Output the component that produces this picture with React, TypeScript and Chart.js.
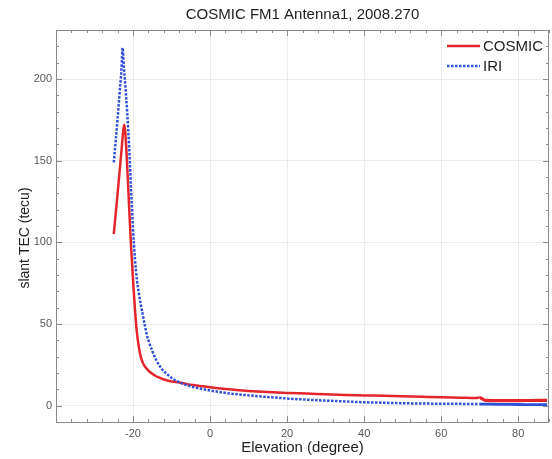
import { useEffect, useRef } from 'react';
import { Chart, registerables } from 'chart.js';

Chart.register(...registerables);

const chartTitle = 'COSMIC FM1 Antenna1, 2008.270';
const xAxisTitle = 'Elevation (degree)';
const yAxisTitle = 'slant TEC (tecu)';
const seriesNames = ['COSMIC', 'IRI'];

const xMajorTicks = [-20, 0, 20, 40, 60, 80];
const yMajorTicks = [0, 50, 100, 150, 200];
const xLimits = [-40, 88];
const yLimits = [-10, 230];

const cosmicElev = [-25, -24, -23, -22.6, -22.3, -22, -21.5, -21, -20.5, -20, -19.5, -19, -18.5, -18, -17.5, -17, -16, -15, -14, -13, -12, -10, -8, -6, -4, -2, 0, 5, 10, 15, 20, 25, 30, 35, 40, 45, 50, 55, 60, 65, 69, 70, 70.5, 71.5, 75, 80, 85, 87.5];
const cosmicTec = [105, 130, 156, 167, 172, 167, 146, 121, 97, 77, 59, 45, 36, 30, 26.5, 24.3, 21.5, 19.5, 18, 17, 16, 14.8, 14.2, 13.2, 12.5, 11.9, 11.3, 10.0, 9.0, 8.3, 7.8, 7.4, 7.0, 6.6, 6.3, 6.0, 5.7, 5.4, 5.1, 4.9, 4.7, 5.0, 4.4, 3.2, 3.1, 3.1, 3.2, 3.2];

const iriElev = [-25, -24.5, -24, -23.5, -23, -22.7, -22.4, -22, -21.5, -21, -20.5, -20, -19.5, -19, -18.5, -18, -17.5, -17, -16.5, -16, -15, -14, -13, -12, -11, -10, -9, -8, -7, -6, -5, -4, -2, 0, 5, 10, 15, 20, 25, 30, 35, 40, 45, 50, 55, 60, 65, 70, 75, 80, 85, 87.5];
const iriTec = [149, 162, 176, 191, 206, 219, 208, 196, 179, 158, 132, 108, 90, 77, 69, 62, 56, 50, 44, 40, 33.5, 28, 24, 21, 19, 17, 15.5, 14.3, 13.3, 12.6, 11.8, 11.2, 10.2, 9.3, 7.5, 6.3, 5.3, 4.4, 3.7, 3.1, 2.6, 2.1, 1.8, 1.5, 1.3, 1.2, 1.1, 1.0, 0.8, 0.7, 0.6, 0.6];

const RED = '#e3262b';
const BLUE = '#2f4fd6';
const FONT = "'Liberation Sans', Arial, Helvetica, sans-serif";
const FRAME = '#8a8a8a';

const framePlugin = {
  id: 'framePlugin',
  beforeDatasetsDraw(chart: any) {
    const { ctx, chartArea } = chart;
    const { left, right, top, bottom } = chartArea;
    const xs = chart.scales.x;
    const ys = chart.scales.y;
    ctx.save();
    ctx.strokeStyle = FRAME;
    ctx.lineWidth = 1;
    ctx.beginPath();
    for (let v = xLimits[0]; v <= xLimits[1]; v += 4) {
      const px = Math.round(xs.getPixelForValue(v)) + 0.5;
      const len = v % 20 === 0 ? 6 : 3;
      ctx.moveTo(px, bottom);
      ctx.lineTo(px, bottom - len);
      ctx.moveTo(px, top);
      ctx.lineTo(px, top + len);
    }
    for (let v = yLimits[0]; v <= yLimits[1]; v += 10) {
      const py = Math.round(ys.getPixelForValue(v)) + 0.5;
      const len = v % 50 === 0 ? 6 : 3;
      ctx.moveTo(left, py);
      ctx.lineTo(left + len, py);
      ctx.moveTo(right, py);
      ctx.lineTo(right - len, py);
    }
    ctx.stroke();
    ctx.strokeRect(Math.round(left) + 0.5, Math.round(top) + 0.5, Math.round(right - left) - 1, Math.round(bottom - top));
    ctx.restore();
  },
  afterDraw(chart: any) {
    const { ctx, chartArea } = chart;
    const { left, right } = chartArea;
    const cx = (left + right) / 2;
    ctx.save();
    ctx.fillStyle = '#222';
    ctx.textAlign = 'center';
    ctx.textBaseline = 'middle';
    ctx.font = `15px ${FONT}`;
    ctx.fillText(chartTitle, cx, 15);
    ctx.fillText(xAxisTitle, cx, 448);
    ctx.save();
    ctx.translate(25, 238);
    ctx.rotate(-Math.PI / 2);
    ctx.font = `14px ${FONT}`;
    ctx.fillText(yAxisTitle, 0, 0);
    ctx.restore();

    const items = [
      { label: chart.data.datasets[0].label, color: RED, dash: [] as number[], y: 46 },
      { label: chart.data.datasets[1].label, color: BLUE, dash: [2.5, 1.5], y: 66 },
    ];
    items.forEach((it) => {
      ctx.beginPath();
      ctx.strokeStyle = it.color;
      ctx.lineWidth = 2.5;
      ctx.setLineDash(it.dash);
      ctx.moveTo(447, it.y);
      ctx.lineTo(480, it.y);
      ctx.stroke();
      ctx.setLineDash([]);
      ctx.fillStyle = '#222';
      ctx.textAlign = 'left';
      ctx.font = `15px ${FONT}`;
      ctx.fillText(it.label, 483, it.y + 1);
    });
    ctx.restore();
  },
};

export default function App() {
  const ref = useRef<HTMLCanvasElement | null>(null);
  useEffect(() => {
    document.body.style.margin = '0';
    const canvas = ref.current;
    if (!canvas) return;
    const chart = new Chart(canvas, {
      type: 'line',
      data: {
        datasets: [
          {
            label: seriesNames[0],
            data: cosmicElev.map((x, i) => ({ x, y: cosmicTec[i] })),
            borderColor: RED,
            backgroundColor: RED,
            borderWidth: 2.5,
            pointRadius: 0,
            cubicInterpolationMode: 'monotone',
            order: 2,
            segment: {
              borderWidth: (c: any) => (c.p0.parsed.x >= 70 ? 3.2 : undefined),
            },
          },
          {
            label: seriesNames[1],
            data: iriElev.map((x, i) => ({ x, y: iriTec[i] })),
            borderColor: BLUE,
            backgroundColor: BLUE,
            borderWidth: 2.5,
            borderDash: [2.5, 1.5],
            pointRadius: 0,
            cubicInterpolationMode: 'monotone',
            order: 1,
            segment: {
              borderDash: (c: any) => (c.p0.parsed.x >= 70 ? [] : undefined),
              borderWidth: (c: any) => (c.p0.parsed.x >= 70 ? 2.8 : undefined),
            },
          },
        ],
      },
      options: {
        responsive: false,
        animation: false,
        devicePixelRatio: 1,
        layout: { padding: { top: 30, right: 3, left: 0, bottom: 0 } },
        plugins: {
          legend: { display: false },
          title: { display: false },
          tooltip: { enabled: false },
        },
        scales: {
          x: {
            type: 'linear',
            min: xLimits[0],
            max: xLimits[1],
            afterBuildTicks: (s: any) => {
              s.ticks = xMajorTicks.map((v) => ({ value: v }));
            },
            afterFit: (s: any) => {
              s.height = 37;
            },
            grid: { color: '#ececec', drawTicks: false },
            border: { display: false },
            ticks: {
              padding: 5,
              maxRotation: 0,
              color: '#555',
              font: { size: 11, family: FONT },
            },
          },
          y: {
            type: 'linear',
            min: yLimits[0],
            max: yLimits[1],
            afterBuildTicks: (s: any) => {
              s.ticks = yMajorTicks.map((v) => ({ value: v }));
            },
            afterFit: (s: any) => {
              s.width = 56;
            },
            grid: { color: '#ececec', drawTicks: false },
            border: { display: false },
            ticks: {
              padding: 4,
              color: '#555',
              font: { size: 11, family: FONT },
            },
          },
        },
      },
      plugins: [framePlugin],
    } as any);
    return () => chart.destroy();
  }, []);
  return <canvas ref={ref} width={552} height={459} style={{ display: 'block' }} />;
}
